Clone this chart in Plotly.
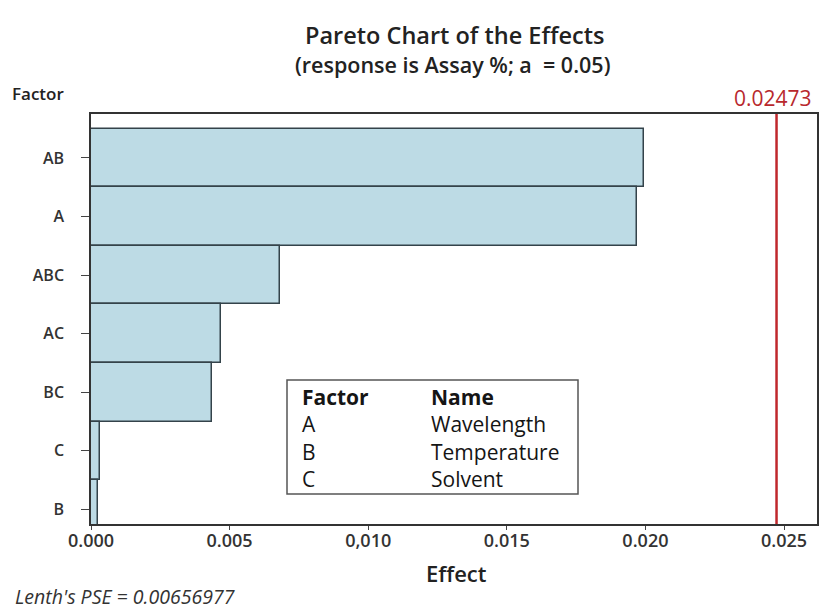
import plotly.graph_objects as go

factors = ["AB", "A", "ABC", "AC", "BC", "C", "B"]
effects = [0.01995, 0.0197, 0.00682, 0.00469, 0.00437, 0.00032, 0.00025]
critical_value = 0.02473
tick_vals = [0.000, 0.005, 0.010, 0.015, 0.020, 0.025]
tick_text = ["0.000", "0.005", "0,010", "0.015", "0.020", "0.025"]
legend_factors = ["A", "B", "C"]
legend_names = ["Wavelength", "Temperature", "Solvent"]

FONT = "Open Sans"
W, H = 819, 609
ML, MR, MT, MB = 91, 2, 114, 85

fig = go.Figure()
fig.add_trace(go.Bar(
    x=effects, y=factors, orientation="h",
    marker=dict(color="#bddbe5", line=dict(color="#34434a", width=1.5)),
    width=1.0,
))

fig.add_shape(type="line", xref="x", yref="paper", x0=critical_value, x1=critical_value,
              y0=0, y1=1, line=dict(color="#c0282d", width=2.5))

fig.update_layout(
    width=W, height=H,
    margin=dict(l=ML, r=MR, t=MT, b=MB, autoexpand=False),
    paper_bgcolor="white", plot_bgcolor="white",
    showlegend=False,
    bargap=0,
    font=dict(family=FONT, color="#222"),
    xaxis=dict(range=[0, 0.02619], tickvals=tick_vals, ticktext=tick_text,
               tickfont=dict(size=18, family=FONT, color="#333", weight=600),
               ticks="outside", ticklen=4, tickcolor="#444", ticklabelstandoff=-4,
               showline=True, linecolor="#333", linewidth=1.5, mirror=True,
               showgrid=False, zeroline=False, automargin=False),
    yaxis=dict(categoryorder="array", categoryarray=factors[::-1],
               range=[-0.25, 6.75],
               tickfont=dict(size=16, family=FONT, color="#333", weight=600),
               ticks="outside", ticklen=8, tickcolor="#444", ticklabelstandoff=14,
               showline=True, linecolor="#333", linewidth=1.5, mirror=True,
               showgrid=False, zeroline=False, automargin=False),
)

plot_w = W - ML - MR
plot_h = H - MT - MB
def px(x):
    return (x - ML) / plot_w
def py(y):
    return (H - MB - y) / plot_h

def text(t, x, y, size, anchor="left", color="#222", weight=400, xref="paper", style="normal"):
    fig.add_annotation(text=t, xref=xref, yref="paper",
                       x=x if xref != "paper" else px(x), y=py(y),
                       xanchor=anchor, yanchor="middle", showarrow=False, align="left",
                       font=dict(size=size, family=FONT, color=color, weight=weight, style=style))

text("Pareto Chart of the Effects", 455, 35, 23.5, "center", weight=600)
text("(response is Assay %; a  = 0.05)", 452, 65, 21.5, "center", weight=600)
text("Factor", 10, 94, 17, weight=600)
text(f"{critical_value:.5f}", 773, 98, 21, "center", color="#b8282d")
text("Effect", 456, 573, 22, "center", weight=600)
text("Lenth's PSE = 0.00656977", 13, 596, 19.5, style="italic", color="#333")

# Legend box
fig.add_shape(type="rect", xref="paper", yref="paper", x0=px(287), x1=px(578), y0=py(494), y1=py(380),
              line=dict(color="#555", width=1.5), fillcolor="white")
col1 = "<b>Factor</b><br>" + "<br>".join(legend_factors)
col2 = "<b>Name</b><br>" + "<br>".join(legend_names)
text(col1, 300, 438, 21, color="#151515")
text(col2, 429, 438, 21, color="#151515")

fig.write_html("out.html", config={"displayModeBar": False},
               post_script="document.body.style.margin='0px';")
